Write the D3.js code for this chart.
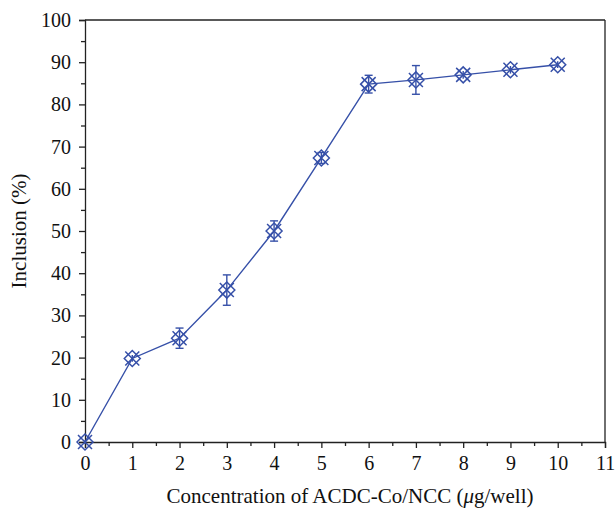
<!DOCTYPE html>
<html><head><meta charset="utf-8">
<script src="https://cdn.jsdelivr.net/npm/d3@7"></script>
<style>body{margin:0;background:#fff}svg{display:block}</style>
</head><body>
<script>
const concentrations = [0,1,2,3,4,5,6,7,8,9,10];
const inclusion = [0,19.8,24.6,36.0,50.0,67.3,84.8,85.8,87.0,88.2,89.4];
const errors = [0.4,0.8,2.4,3.6,2.4,1.3,2.1,3.4,0.9,0.9,0.8];
const xTicks = [0,1,2,3,4,5,6,7,8,9,10,11];
const yTicks = [0,10,20,30,40,50,60,70,80,90,100];
const xTitle = "Concentration of ACDC-Co/NCC (";
const yTitle = "Inclusion (%)";

const W=616,H=508;
const m={l:85,r:11,t:20,b:66};
const svg=d3.select("body").append("svg").attr("width",W).attr("height",H);
const x=d3.scaleLinear().domain([0,11]).range([m.l,W-m.r]);
const y=d3.scaleLinear().domain([0,100]).range([H-m.b,m.t]);
const font="'Liberation Serif', 'DejaVu Serif', serif";
const col="#3650a8";

// frame top/right
svg.append("line").attr("x1",x(0)).attr("x2",x(11)).attr("y1",y(100)).attr("y2",y(100)).attr("stroke","#222").attr("stroke-width",1.3);
svg.append("line").attr("x1",x(11)).attr("x2",x(11)).attr("y1",y(0)).attr("y2",y(100)).attr("stroke","#222").attr("stroke-width",1.3);

const xa=svg.append("g").attr("transform",`translate(0,${y(0)})`)
  .call(d3.axisBottom(x).tickValues(xTicks).tickSize(6).tickPadding(5).tickFormat(d3.format("d")));
const xm=svg.append("g").attr("transform",`translate(0,${y(0)})`)
  .call(d3.axisBottom(x).tickValues(d3.range(0.5,11,1)).tickSize(4).tickFormat(""));
const ya=svg.append("g").attr("transform",`translate(${x(0)},0)`)
  .call(d3.axisLeft(y).tickValues(yTicks).tickSize(6).tickPadding(8).tickFormat(d3.format("d")));
const ym=svg.append("g").attr("transform",`translate(${x(0)},0)`)
  .call(d3.axisLeft(y).tickValues(d3.range(5,100,10)).tickSize(4).tickFormat(""));
[xa,xm,ya,ym].forEach(g=>{
  g.selectAll("path,line").attr("stroke","#222").attr("stroke-width",1.3);
  g.selectAll("text").attr("font-family",font).attr("font-size",20).attr("fill","#111");
});
xm.select("path").remove(); ym.select("path").remove();
xa.selectAll("text").attr("dy","0.85em");

// line
svg.append("path").datum(concentrations.map((c,i)=>[c,inclusion[i]]))
  .attr("d",d3.line().x(d=>x(d[0])).y(d=>y(d[1])))
  .attr("fill","none").attr("stroke",col).attr("stroke-width",1.4);

// error bars
const eb=svg.append("g").attr("stroke",col).attr("stroke-width",1.4);
concentrations.forEach((c,i)=>{
  const cx=x(c), y1=y(inclusion[i]+errors[i]), y2=y(inclusion[i]-errors[i]);
  eb.append("line").attr("x1",cx).attr("x2",cx).attr("y1",y1).attr("y2",y2);
  if(errors[i]>1.2){
    eb.append("line").attr("x1",cx-4).attr("x2",cx+4).attr("y1",y1).attr("y2",y1);
    eb.append("line").attr("x1",cx-4).attr("x2",cx+4).attr("y1",y2).attr("y2",y2);
  }
});

// markers: diamond + X
const mk=svg.append("g").attr("stroke",col).attr("stroke-width",1.5).attr("fill","none");
concentrations.forEach((c,i)=>{
  const cx=x(c), cy=y(inclusion[i]), r=8, s=7;
  mk.append("path").attr("d",`M${cx-r},${cy}L${cx},${cy-r}L${cx+r},${cy}L${cx},${cy+r}Z`);
  mk.append("path").attr("d",`M${cx-s},${cy-s}L${cx+s},${cy+s}M${cx-s},${cy+s}L${cx+s},${cy-s}`);
});

// titles
const xt=svg.append("text").attr("x",350).attr("y",H-5).attr("text-anchor","middle")
  .attr("font-family",font).attr("font-size",21).attr("fill","#111");
xt.append("tspan").text(xTitle);
xt.append("tspan").attr("font-style","italic").text("μ");
xt.append("tspan").text("g/well)");
svg.append("text").attr("transform",`translate(26,${(y(0)+y(100))/2}) rotate(-90)`)
  .attr("text-anchor","middle").attr("font-family",font).attr("font-size",21).attr("fill","#111").text(yTitle);
</script>
</body></html>
